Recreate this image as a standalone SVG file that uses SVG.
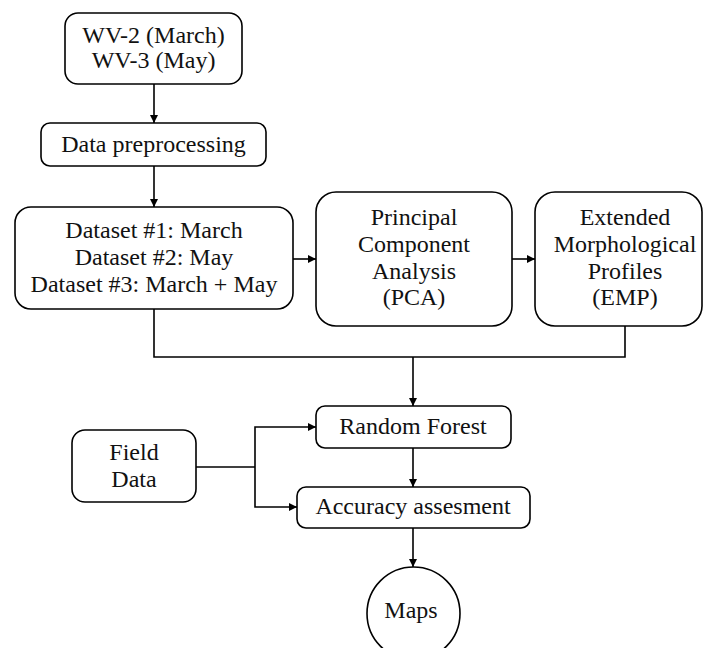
<svg xmlns="http://www.w3.org/2000/svg" width="705" height="648" viewBox="0 0 705 648">
  <style>
    .box { fill: #ffffff; stroke: #000000; stroke-width: 1.6; }
    .lbl { font-family: "Liberation Serif", "Times New Roman", serif; font-size: 24px; fill: #111111; text-anchor: middle; }
    .wire { fill: none; stroke: #000000; stroke-width: 1.6; }
    .arrow { fill: none; stroke: #000000; stroke-width: 1.6; marker-end: url(#head); }
  </style>
  <defs>
    <marker id="head" viewBox="0 0 10 10" refX="10" refY="5" markerWidth="8" markerHeight="8" markerUnits="userSpaceOnUse" orient="auto">
      <path d="M0,0 L10,5 L0,10 Z" fill="#000000"/>
    </marker>
  </defs>
  <rect width="705" height="648" fill="#ffffff"/>

  <g id="connectors">
    <line class="arrow" x1="154" y1="84" x2="154" y2="123"/>
    <line class="arrow" x1="154" y1="166" x2="154" y2="207"/>
    <line class="arrow" x1="293" y1="259" x2="316" y2="259"/>
    <line class="arrow" x1="512" y1="259" x2="535" y2="259"/>
    <polyline class="wire" points="154,309 154,357 625,357 625,326"/>
    <line class="arrow" x1="413" y1="357" x2="413" y2="406"/>
    <line class="wire" x1="196" y1="467" x2="255" y2="467"/>
    <polyline class="arrow" points="255,467 255,427 316,427"/>
    <polyline class="arrow" points="255,467 255,507 297,507"/>
    <line class="arrow" x1="413" y1="448" x2="413" y2="487"/>
    <line class="arrow" x1="413" y1="528" x2="413" y2="567"/>
  </g>

  <g id="sources">
    <rect class="box" x="65" y="13" width="177" height="71" rx="13"/>
    <text class="lbl" x="153.5" y="43">WV-2 (March)</text>
    <text class="lbl" x="153.5" y="68">WV-3 (May)</text>
  </g>

  <g id="preprocessing">
    <rect class="box" x="41" y="123" width="225" height="43" rx="9"/>
    <text class="lbl" x="153.5" y="152">Data preprocessing</text>
  </g>

  <g id="datasets">
    <rect class="box" x="15" y="207" width="278" height="102" rx="16"/>
    <text class="lbl" x="154" y="238">Dataset #1: March</text>
    <text class="lbl" x="154" y="265">Dataset #2: May</text>
    <text class="lbl" x="154" y="292">Dataset #3: March + May</text>
  </g>

  <g id="pca">
    <rect class="box" x="316" y="192" width="196" height="134" rx="20"/>
    <text class="lbl" x="414" y="225">Principal</text>
    <text class="lbl" x="414" y="252">Component</text>
    <text class="lbl" x="414" y="279">Analysis</text>
    <text class="lbl" x="414" y="305">(PCA)</text>
  </g>

  <g id="emp">
    <rect class="box" x="535" y="192" width="167" height="134" rx="20"/>
    <text class="lbl" x="625" y="225">Extended</text>
    <text class="lbl" x="625" y="252">Morphological</text>
    <text class="lbl" x="625" y="279">Profiles</text>
    <text class="lbl" x="625" y="305">(EMP)</text>
  </g>

  <g id="random-forest">
    <rect class="box" x="316" y="406" width="195" height="42" rx="9"/>
    <text class="lbl" x="413" y="434">Random Forest</text>
  </g>

  <g id="field-data">
    <rect class="box" x="72" y="430" width="124" height="72" rx="13"/>
    <text class="lbl" x="134" y="460">Field</text>
    <text class="lbl" x="134" y="487">Data</text>
  </g>

  <g id="accuracy">
    <rect class="box" x="297" y="487" width="233" height="41" rx="9"/>
    <text class="lbl" x="413" y="514">Accuracy assesment</text>
  </g>

  <g id="maps">
    <circle class="box" cx="413.5" cy="613.5" r="46.5"/>
    <text class="lbl" x="411" y="618">Maps</text>
  </g>
</svg>
